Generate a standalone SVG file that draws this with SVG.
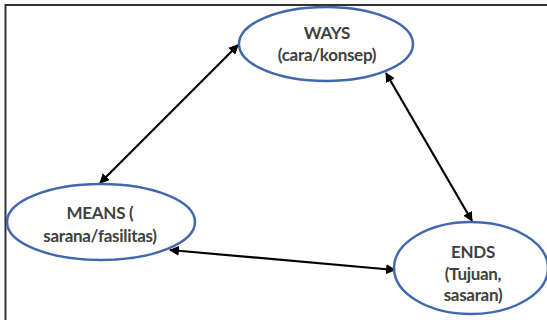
<svg xmlns="http://www.w3.org/2000/svg" width="547" height="320" viewBox="0 0 547 320">
<defs>
<style>
.node ellipse{fill:#ffffff;stroke:#4068b0;stroke-width:2.5}
.node text{font-family:Lato,"Liberation Sans",sans-serif;font-size:17px;font-weight:bold;fill:#404040;text-anchor:middle;letter-spacing:-0.3px}
.conn line{stroke:#000;stroke-width:2.2}
.frame{stroke:#333;stroke-width:2;fill:none}
</style>
<marker id="ah" viewBox="0 0 10 10" refX="9" refY="5" markerWidth="4.5" markerHeight="4.5" orient="auto-start-reverse" markerUnits="strokeWidth">
<path d="M0,0 L10,5 L0,10 z" fill="#000"/>
</marker>
</defs>
<rect width="547" height="320" fill="#fff"/>
<path class="frame" d="M5.5,320 V5 H547"/>
<g id="connectors" class="conn">
<line x1="100" y1="183" x2="238" y2="45" marker-start="url(#ah)" marker-end="url(#ah)"/>
<line x1="386" y1="73" x2="472" y2="221" marker-start="url(#ah)" marker-end="url(#ah)"/>
<line x1="170" y1="250" x2="395" y2="270" marker-start="url(#ah)" marker-end="url(#ah)"/>
</g>
<g id="ways" class="node">
<ellipse cx="326" cy="44" rx="87" ry="37"/>
<text x="327" y="39">WAYS</text>
<text x="327" y="61">(cara/konsep)</text>
</g>
<g id="means" class="node">
<ellipse cx="101" cy="222" rx="94" ry="38"/>
<text x="100" y="219">MEANS (</text>
<text x="100" y="242">sarana/fasilitas)</text>
</g>
<g id="ends" class="node">
<ellipse cx="471" cy="268" rx="77" ry="46"/>
<text x="473" y="258">ENDS</text>
<text x="473" y="280">(Tujuan,</text>
<text x="473" y="301">sasaran)</text>
</g>
</svg>
